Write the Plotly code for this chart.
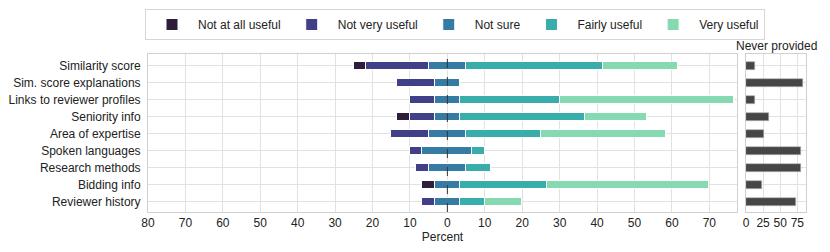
import plotly.graph_objects as go
from plotly.subplots import make_subplots

categories = ["Similarity score", "Sim. score explanations", "Links to reviewer profiles",
              "Seniority info", "Area of expertise", "Spoken languages",
              "Research methods", "Bidding info", "Reviewer history"]

not_at_all = [3.33, 0, 0, 3.33, 0, 0, 0, 3.33, 0]
not_very = [16.67, 10.0, 6.67, 6.67, 10.0, 3.33, 3.33, 0, 3.33]
not_sure = [10.0, 6.67, 6.67, 6.67, 10.0, 13.33, 10.0, 6.67, 6.67]
fairly = [36.67, 0, 26.67, 33.33, 20.0, 3.33, 6.67, 23.33, 6.67]
very = [20.0, 0, 46.67, 16.67, 33.33, 0, 0, 43.33, 10.0]
never = [13.33, 83.33, 13.33, 33.33, 26.67, 80.0, 80.0, 23.33, 73.33]

series_names = ["Not at all useful", "Not very useful", "Not sure", "Fairly useful", "Very useful"]
colors = ["#2e1e3c", "#413f86", "#367ba3", "#39adab", "#85dab1"]

main_ticks = [-80, -70, -60, -50, -40, -30, -20, -10, 0, 10, 20, 30, 40, 50, 60, 70]
main_ticklabels = ["80", "70", "60", "50", "40", "30", "20", "10", "0", "10", "20", "30", "40", "50", "60", "70"]
never_ticks = [0, 25, 50, 75]

FONT = "Liberation Sans, Arial, sans-serif"

# bases for diverging stacks (Not sure centered on 0)
half = [v / 2 for v in not_sure]
base_ns = [-h for h in half]
base_nv = [-h - nv for h, nv in zip(half, not_very)]
base_na = [-h - nv - na for h, nv, na in zip(half, not_very, not_at_all)]
base_fa = list(half)
base_ve = [h + f for h, f in zip(half, fairly)]

fig = make_subplots(rows=1, cols=2, shared_yaxes=False, horizontal_spacing=0.0)

segs = [(not_at_all, base_na), (not_very, base_nv), (not_sure, base_ns), (fairly, base_fa), (very, base_ve)]
for name, col, (vals, bases) in zip(series_names, colors, segs):
    xs = [v if v > 0 else None for v in vals]
    fig.add_trace(go.Bar(
        y=categories, x=xs, base=bases, orientation="h", name=name,
        marker=dict(color=col, line=dict(color="white", width=1)),
        width=0.48, showlegend=True,
    ), row=1, col=1)

fig.add_trace(go.Bar(
    y=categories, x=never, orientation="h", name="Never provided",
    marker=dict(color="#464646", line=dict(color="#b5b5b5", width=0.6)),
    width=0.48, showlegend=False,
), row=1, col=2)

W, H = 830, 252
ml, mr, mt, mb = 148, 24, 54, 40
pw = W - ml - mr
ph = H - mt - mb
d1 = (737 - ml) / pw
d2 = (746 - ml) / pw

yr = [8.59, -0.7]
gridc = "#e2e2e2"
linec = "#d0d0d0"

fig.update_layout(
    width=W, height=H,
    margin=dict(l=ml, r=mr, t=mt, b=mb, autoexpand=False),
    barmode="overlay",
    plot_bgcolor="white", paper_bgcolor="white",
    font=dict(family=FONT, size=12, color="#222222"),
    bargap=0,
    legend=dict(orientation="h", x=(145 - ml) / pw, xanchor="left",
                y=1 + (mt - 9) / ph, yanchor="top",
                bgcolor="white", bordercolor="#d6d6d6", borderwidth=1,
                font=dict(family=FONT, size=12, color="#222222"),
                traceorder="normal", itemwidth=42),
    xaxis=dict(domain=[0, d1], range=[-80, 77.4], tickvals=main_ticks, ticktext=main_ticklabels,
               showgrid=True, gridcolor=gridc, gridwidth=1, zeroline=False,
               showline=True, linecolor=linec, mirror=True, ticks="", automargin=False,
               title=dict(text="Percent", standoff=2, font=dict(size=12)),
               tickfont=dict(size=12)),
    yaxis=dict(range=yr, showgrid=True, gridcolor=gridc, zeroline=False,
               showline=True, linecolor=linec, mirror=True, ticks="", automargin=False,
               tickfont=dict(size=12), ticklabelstandoff=4),
    xaxis2=dict(domain=[d2, 1], range=[0, 87.7], tickvals=never_ticks,
                showgrid=True, gridcolor=gridc, zeroline=False, automargin=False,
                showline=True, linecolor=linec, mirror=True, ticks="",
                tickfont=dict(size=12)),
    yaxis2=dict(range=yr, showgrid=True, gridcolor=gridc, zeroline=False,
                showline=True, linecolor=linec, mirror=True, ticks="", automargin=False,
                showticklabels=False),
)

fig.add_shape(type="line", xref="x", yref="y domain", x0=0, x1=0, y0=0, y1=1,
              line=dict(color="#333333", width=1, dash="dash"))

fig.add_annotation(text="Never provided", xref="x2 domain", yref="paper",
                   x=0.5, y=1 + (mt - 46) / ph, xanchor="center", yanchor="middle",
                   showarrow=False, font=dict(family=FONT, size=12, color="#222222"))

fig.write_html("out.html", config={"displayModeBar": False},
               post_script="document.body.style.margin='0';document.body.style.padding='0';")
